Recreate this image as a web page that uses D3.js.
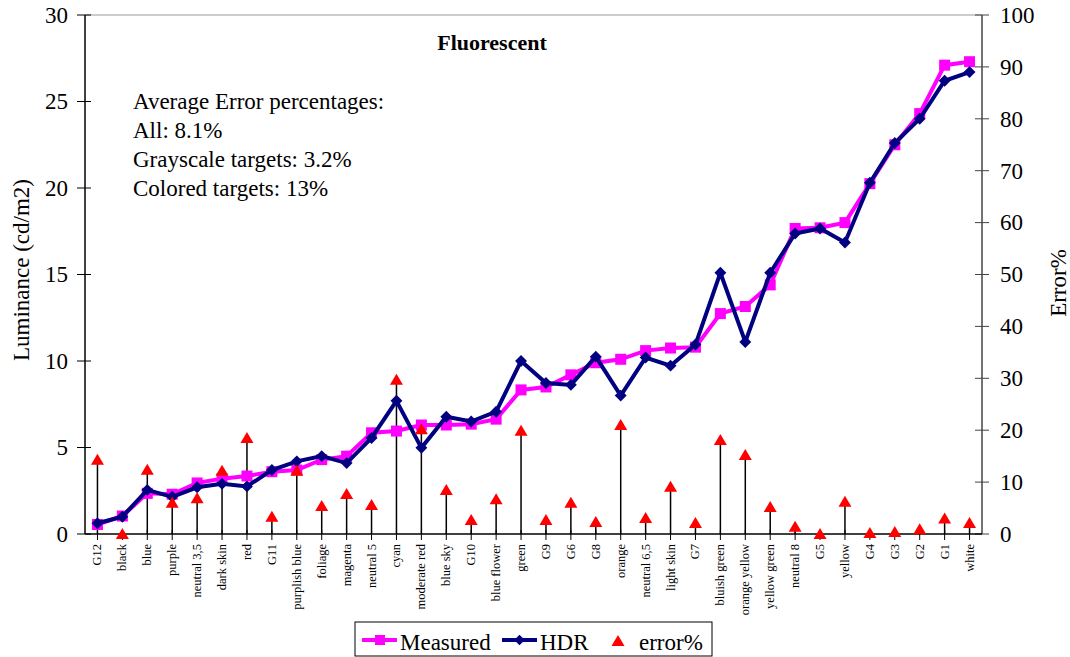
<!DOCTYPE html>
<html>
<head>
<meta charset="utf-8">
<script src="https://cdn.jsdelivr.net/npm/d3@7"></script>
<style>
  body { margin: 0; background: #fff; }
  text { font-family: "Liberation Serif", "Times New Roman", serif; }
</style>
</head>
<body>
<div id="chart"></div>
<script>
let categories = ["G12", "black", "blue", "purple", "neutral 3,5", "dark skin", "red", "G11",
  "purplish blue", "foliage", "magenta", "neutral 5", "cyan", "moderate red", "blue sky", "G10",
  "blue flower", "green", "G9", "G6", "G8", "orange", "neutral 6,5", "light skin", "G7",
  "bluish green", "orange yellow", "yellow green", "neutral 8", "G5", "yellow", "G4", "G3",
  "G2", "G1", "white"];

let measured = [0.55, 1.04, 2.35, 2.3, 2.95, 3.2, 3.35, 3.6, 3.7, 4.3, 4.5, 5.85, 5.95, 6.3,
  6.3, 6.35, 6.64, 8.33, 8.5, 9.2, 9.9, 10.1, 10.6, 10.75, 10.8, 12.74, 13.15, 14.4, 17.66,
  17.7, 18.0, 20.25, 22.5, 24.3, 27.1, 27.3];

let hdr = [0.62, 1.0, 2.55, 2.15, 2.7, 2.9, 2.75, 3.7, 4.2, 4.5, 4.1, 5.55, 7.7, 4.98, 6.78,
  6.5, 7.07, 10.0, 8.73, 8.62, 10.25, 8.0, 10.2, 9.73, 10.95, 15.1, 11.1, 15.1, 17.37, 17.66,
  16.85, 20.3, 22.6, 24.0, 26.2, 26.7];

let errorPct = [14.3, 0, 12.4, 6.0, 6.9, 12.2, 18.5, 3.3, 12.2, 5.4, 7.7, 5.6, 29.7, 20.2, 8.5,
  2.7, 6.7, 19.9, 2.7, 6.0, 2.3, 21.0, 3.1, 9.1, 2.1, 18.1, 15.2, 5.2, 1.4, 0, 6.2, 0.2, 0.4,
  0.9, 3.0, 2.1];

let leftTicks = [0, 5, 10, 15, 20, 25, 30];
let rightTicks = [0, 10, 20, 30, 40, 50, 60, 70, 80, 90, 100];

let notes = ["Average Error percentages:", "All: 8.1%", "Grayscale targets: 3.2%", "Colored targets: 13%"];

let width = 1070, height = 657;
let margin = { left: 85, right: 88, top: 15, bottom: 123 };

let svg = d3.select('#chart').append('svg')
  .attr('width', width)
  .attr('height', height);

let x = d3.scaleBand()
  .domain(categories)
  .range([margin.left, width - margin.right]);

let yL = d3.scaleLinear().domain([0, 30]).range([height - margin.bottom, margin.top]);
let yR = d3.scaleLinear().domain([0, 100]).range([height - margin.bottom, margin.top]);

let cx = function (d, i) { return x(categories[i]) + x.bandwidth() / 2; };
let y0 = yL(0);
let xr = width - margin.right;

// top border of plot area
svg.append('line')
  .attr('x1', margin.left).attr('x2', xr)
  .attr('y1', margin.top).attr('y2', margin.top)
  .style('stroke', '#999').style('stroke-width', 1);

// left axis
let axL = svg.append('g')
  .attr('transform', 'translate(' + margin.left + ',0)')
  .call(d3.axisLeft(yL).tickValues(leftTicks).tickSize(0).tickPadding(17));
axL.select('.domain').remove();
axL.selectAll('text').style('font-size', '23px').style('fill', '#000')
  .style('font-family', '"Liberation Serif", serif');
svg.append('line')
  .attr('x1', margin.left).attr('x2', margin.left)
  .attr('y1', margin.top).attr('y2', y0)
  .style('stroke', '#000').style('stroke-width', 1.5);
svg.selectAll('.ltick').data(leftTicks).enter().append('line')
  .attr('x1', margin.left - 8).attr('x2', margin.left + 6)
  .attr('y1', function (d) { return yL(d); }).attr('y2', function (d) { return yL(d); })
  .style('stroke', '#000').style('stroke-width', 1);

// right axis
let axR = svg.append('g')
  .attr('transform', 'translate(' + xr + ',0)')
  .call(d3.axisRight(yR).tickValues(rightTicks).tickSize(0).tickPadding(18));
axR.select('.domain').remove();
axR.selectAll('text').style('font-size', '23px').style('fill', '#000')
  .style('font-family', '"Liberation Serif", serif');
svg.append('line')
  .attr('x1', xr).attr('x2', xr)
  .attr('y1', margin.top).attr('y2', y0)
  .style('stroke', '#444').style('stroke-width', 1.5);
svg.selectAll('.rtick').data(rightTicks).enter().append('line')
  .attr('x1', xr - 7).attr('x2', xr + 7)
  .attr('y1', function (d) { return yR(d); }).attr('y2', function (d) { return yR(d); })
  .style('stroke', '#444').style('stroke-width', 1);

// x axis
svg.append('line')
  .attr('x1', margin.left).attr('x2', xr)
  .attr('y1', y0).attr('y2', y0)
  .style('stroke', '#000').style('stroke-width', 1.5);
svg.selectAll('.xtick').data(categories).enter().append('line')
  .attr('x1', cx).attr('x2', cx)
  .attr('y1', y0 - 4).attr('y2', y0 + 6)
  .style('stroke', '#000').style('stroke-width', 1);
svg.selectAll('.xlab').data(categories).enter().append('text')
  .attr('transform', function (d, i) { return 'translate(' + (cx(d, i) + 4) + ',' + (y0 + 10) + ') rotate(-90)'; })
  .attr('text-anchor', 'end')
  .style('font-size', '12.5px')
  .text(function (d) { return d; });

// drop lines for error%
svg.selectAll('.drop').data(errorPct).enter().append('line')
  .attr('x1', cx).attr('x2', cx)
  .attr('y1', function (d) { return yR(d); }).attr('y2', y0)
  .style('stroke', '#000').style('stroke-width', 1.5);

// Measured line
let lineL = d3.line()
  .x(function (d, i) { return cx(d, i); })
  .y(function (d) { return yL(d); });

svg.append('path').datum(measured)
  .attr('d', lineL)
  .style('fill', 'none').style('stroke', '#ff00ff').style('stroke-width', 4);
svg.selectAll('.msq').data(measured).enter().append('rect')
  .attr('x', function (d, i) { return cx(d, i) - 5.5; })
  .attr('y', function (d) { return yL(d) - 5.5; })
  .attr('width', 11).attr('height', 11)
  .style('fill', '#ff00ff');

// HDR line
svg.append('path').datum(hdr)
  .attr('d', lineL)
  .style('fill', 'none').style('stroke', '#000080').style('stroke-width', 4);
svg.selectAll('.hdia').data(hdr).enter().append('path')
  .attr('d', d3.symbol().type(d3.symbolDiamond2).size(90))
  .attr('transform', function (d, i) { return 'translate(' + cx(d, i) + ',' + yL(d) + ')'; })
  .style('fill', '#000080');

// error% triangles
let tri = 'M0,-6L6.5,5L-6.5,5Z';
svg.selectAll('.etri').data(errorPct).enter().append('path')
  .attr('d', tri)
  .attr('transform', function (d, i) { return 'translate(' + cx(d, i) + ',' + yR(d) + ')'; })
  .style('fill', '#ff0000');

// title
svg.append('text')
  .attr('x', 492).attr('y', 50)
  .attr('text-anchor', 'middle')
  .style('font-size', '22px').style('font-weight', 'bold')
  .text('Fluorescent');

// notes
svg.selectAll('.note').data(notes).enter().append('text')
  .attr('x', 133)
  .attr('y', function (d, i) { return 109 + i * 29; })
  .style('font-size', '23px')
  .text(function (d) { return d; });

// axis titles
svg.append('text')
  .attr('transform', 'translate(29,270) rotate(-90)')
  .attr('text-anchor', 'middle')
  .style('font-size', '23px')
  .text('Luminance (cd/m2)');
svg.append('text')
  .attr('transform', 'translate(1066,283) rotate(-90)')
  .attr('text-anchor', 'middle')
  .style('font-size', '23px')
  .text('Error%');

// legend
let lg = svg.append('g');
lg.append('rect')
  .attr('x', 355).attr('y', 622).attr('width', 357).attr('height', 34)
  .style('fill', '#fff').style('stroke', '#000').style('stroke-width', 1);
lg.append('line').attr('x1', 362).attr('x2', 397).attr('y1', 640).attr('y2', 640)
  .style('stroke', '#ff00ff').style('stroke-width', 4);
lg.append('rect').attr('x', 375).attr('y', 635).attr('width', 10).attr('height', 10)
  .style('fill', '#ff00ff');
lg.append('text').attr('x', 400).attr('y', 650).style('font-size', '23px').text('Measured');
lg.append('line').attr('x1', 502).attr('x2', 537).attr('y1', 640).attr('y2', 640)
  .style('stroke', '#000080').style('stroke-width', 4);
lg.append('path')
  .attr('d', d3.symbol().type(d3.symbolDiamond2).size(70))
  .attr('transform', 'translate(519.5,640)')
  .style('fill', '#000080');
lg.append('text').attr('x', 540).attr('y', 650).style('font-size', '23px').text('HDR');
lg.append('path').attr('d', tri).attr('transform', 'translate(618,641)').style('fill', '#ff0000');
lg.append('text').attr('x', 639).attr('y', 650).style('font-size', '23px').text('error%');
</script>
</body>
</html>
